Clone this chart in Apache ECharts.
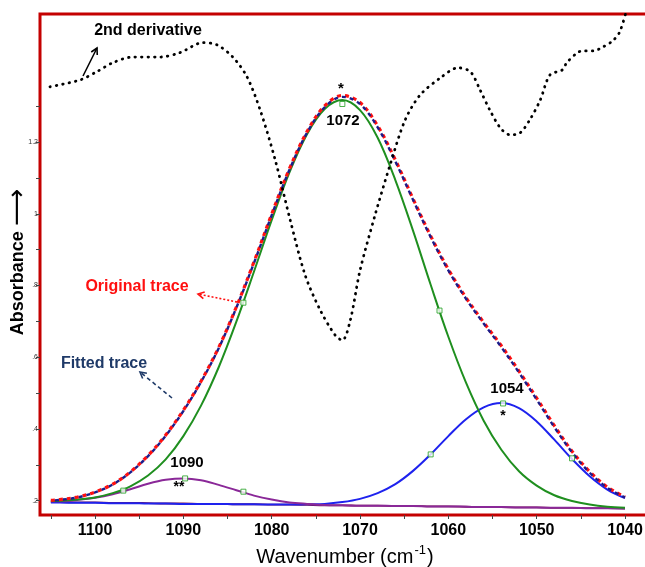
<!DOCTYPE html>
<html>
<head>
<meta charset="utf-8">
<script src="https://cdn.jsdelivr.net/npm/echarts@6/dist/echarts.min.js"></script>
<style>
html, body { margin: 0; padding: 0; background: #fff; }
#chart { width: 645px; height: 567px; }
</style>
</head>
<body>
<div id="chart"></div>
<script>
// wavenumber grid (cm-1)
const wavenumbers = [1105, 1104, 1102, 1100, 1098, 1096, 1094, 1092, 1090, 1088, 1086, 1084, 1082, 1080, 1078, 1076, 1074,
    1072, 1070, 1068, 1066, 1064, 1062, 1060, 1058, 1056, 1054, 1052, 1050, 1048, 1046, 1044, 1042, 1040];

const originalTrace = [0.201, 0.203, 0.210, 0.224, 0.246, 0.280, 0.326, 0.383, 0.452, 0.533, 0.627, 0.740, 0.866, 0.999, 1.125, 1.229, 1.301,
    1.330, 1.310, 1.245, 1.150, 1.042, 0.938, 0.845, 0.766, 0.697, 0.632, 0.561, 0.486, 0.409, 0.338, 0.281, 0.238, 0.210];
const fittedTrace = [0.200, 0.202, 0.209, 0.223, 0.245, 0.279, 0.324, 0.381, 0.450, 0.531, 0.625, 0.738, 0.863, 0.996, 1.122, 1.226, 1.297,
    1.326, 1.306, 1.241, 1.146, 1.039, 0.935, 0.842, 0.763, 0.694, 0.628, 0.557, 0.482, 0.405, 0.335, 0.278, 0.236, 0.209];
const band1072 = [0.199, 0.200, 0.203, 0.209, 0.221, 0.240, 0.270, 0.315, 0.380, 0.465, 0.572, 0.699, 0.839, 0.982, 1.115, 1.222, 1.292,
    1.317, 1.289, 1.212, 1.094, 0.953, 0.802, 0.657, 0.529, 0.423, 0.342, 0.282, 0.242, 0.215, 0.199, 0.189, 0.183, 0.180];
const band1090 = [0.198, 0.198, 0.202, 0.208, 0.218, 0.232, 0.247, 0.258, 0.262, 0.257, 0.244, 0.229, 0.214, 0.203, 0.195, 0.191, 0.188,
    0.187, 0.186, 0.186, 0.185, 0.185, 0.184, 0.184, 0.183, 0.182, 0.182, 0.181, 0.181, 0.180, 0.180, 0.179, 0.179, 0.178];
const band1054 = [0.195, 0.195, 0.194, 0.194, 0.193, 0.193, 0.192, 0.192, 0.191, 0.191, 0.191, 0.190, 0.190, 0.189, 0.189, 0.190, 0.191,
    0.196, 0.205, 0.221, 0.246, 0.283, 0.329, 0.380, 0.427, 0.460, 0.472, 0.458, 0.421, 0.370, 0.316, 0.268, 0.231, 0.207];
const baseline = [0.196, 0.196, 0.195, 0.195, 0.194, 0.194, 0.193, 0.192, 0.192, 0.191, 0.191, 0.190, 0.190, 0.189, 0.189, 0.188, 0.187,
    0.187, 0.186, 0.186, 0.185, 0.185, 0.184, 0.184, 0.183, 0.182, 0.182, 0.181, 0.181, 0.180, 0.180, 0.179, 0.179, 0.178];

// 2nd derivative (scaled onto the absorbance axis)
const derivWn = [1105.1, 1101.7, 1099.8, 1098.0, 1095.7, 1092.6, 1090.4, 1087.8, 1086.2, 1084.4, 1082.8, 1081.3, 1079.6, 1077.9,
    1076.2, 1074.5, 1072.8, 1072.0, 1071.1, 1070.0, 1068.3, 1066.6, 1064.9, 1063.2, 1060.9, 1058.9, 1057.5, 1056.4, 1055.3,
    1054.1, 1053.0, 1051.9, 1050.8, 1049.6, 1048.5, 1047.1, 1046.6, 1045.4, 1044.8, 1043.6, 1042.5, 1041.4, 1040.6, 1039.8];
const derivVal = [1.354, 1.373, 1.396, 1.421, 1.437, 1.437, 1.449, 1.477, 1.471, 1.437, 1.382, 1.289, 1.150, 0.982,
    0.828, 0.731, 0.661, 0.647, 0.703, 0.842, 0.996, 1.136, 1.261, 1.331, 1.379, 1.407, 1.396, 1.345, 1.289,
    1.239, 1.220, 1.225, 1.261, 1.317, 1.387, 1.401, 1.421, 1.449, 1.454, 1.454, 1.465, 1.482, 1.507, 1.570];

// fit points marked with small squares
const fitPoints = [[1096.8, 0.228], [1083.2, 0.752], [1072, 1.306], [1061, 0.73], [1089.8, 0.262],
    [1083.2, 0.225], [1062, 0.329], [1053.8, 0.471], [1046, 0.318]];

const xTicks = [1105, 1100, 1095, 1090, 1085, 1080, 1075, 1070, 1065, 1060, 1055, 1050, 1045, 1040];
const xLabels = [1100, 1090, 1080, 1070, 1060, 1050, 1040];
const yTicks = [0.2, 0.3, 0.4, 0.5, 0.6, 0.7, 0.8, 0.9, 1.0, 1.1, 1.2, 1.3];
const yLabels = [0.2, 0.4, 0.6, 0.8, 1.0, 1.2];

function pairs(xs, ys) {
    return xs.map((x, i) => [x, ys[i]]);
}

function arrow(x1, y1, x2, y2, color, dash) {
    const a = Math.atan2(y2 - y1, x2 - x1);
    const h = 7;
    const p1 = [x2 - h * Math.cos(a - 0.5), y2 - h * Math.sin(a - 0.5)];
    const p2 = [x2 - h * Math.cos(a + 0.5), y2 - h * Math.sin(a + 0.5)];
    return [
        { type: 'line', shape: { x1: x1, y1: y1, x2: x2, y2: y2 }, style: { stroke: color, lineWidth: 1.6, lineDash: dash || null }, z: 100 },
        { type: 'polyline', shape: { points: [p1, [x2, y2], p2] }, style: { stroke: color, lineWidth: 1.6, fill: null }, z: 100 }
    ];
}

function label(text, x, y, size, color) {
    return {
        type: 'text', x: x, y: y, z: 100,
        style: { text: text, fill: color || '#000', font: 'bold ' + size + 'px "Liberation Sans", Arial, sans-serif', align: 'center', verticalAlign: 'middle' }
    };
}

const chart = echarts.init(document.getElementById('chart'), null, { renderer: 'canvas' });

const lineBase = { type: 'line', symbol: 'none', smooth: 0.35, animation: false, silent: true };

const option = {
    animation: false,
    backgroundColor: '#fff',
    grid: {
        left: 40, top: 14, right: -5, bottom: 52,
        outerBoundsMode: 'none', containLabel: false,
        show: true, borderColor: '#c40000', borderWidth: 3, backgroundColor: 'transparent'
    },
    xAxis: {
        type: 'value', inverse: true, min: 1037.17, max: 1106.23,
        name: '{a|Wavenumber (cm}{s|-1}{a|)}',
        nameLocation: 'middle', nameGap: 22,
        nameTextStyle: {
            rich: {
                a: { fontSize: 20, fontFamily: '"Liberation Sans", Arial, sans-serif', color: '#000', verticalAlign: 'bottom', lineHeight: 24 },
                s: { fontSize: 13, fontFamily: '"Liberation Sans", Arial, sans-serif', color: '#000', verticalAlign: 'top', lineHeight: 24, padding: [0, 1, 0, 1] }
            }
        },
        axisLine: { show: false },
        splitLine: { show: false },
        axisTick: { show: true, length: 4, customValues: xTicks, lineStyle: { color: '#444', width: 1 } },
        axisLabel: {
            customValues: xLabels, margin: 8,
            fontSize: 16, fontWeight: 'bold', color: '#000',
            fontFamily: '"Liberation Sans", Arial, sans-serif',
            formatter: v => String(v)
        }
    },
    yAxis: {
        type: 'value', min: 0.16, max: 1.557,
        axisLine: { show: false },
        splitLine: { show: false },
        axisTick: { show: true, length: 4, customValues: yTicks, lineStyle: { color: '#444', width: 1 } },
        axisLabel: {
            customValues: yLabels, margin: 2,
            fontSize: 7, color: '#333',
            fontFamily: '"Liberation Sans", Arial, sans-serif',
            formatter: v => {
                const s = String(Math.round(v * 10) / 10);
                return s.startsWith('0') ? s.slice(1) : s;
            }
        }
    },
    series: [
        Object.assign({}, lineBase, { name: 'baseline', data: pairs(wavenumbers, baseline), lineStyle: { color: '#7a1448', width: 1.8 }, z: 2 }),
        Object.assign({}, lineBase, { name: '1054', data: pairs(wavenumbers, band1054), lineStyle: { color: '#1e22ee', width: 2 }, z: 3 }),
        Object.assign({}, lineBase, { name: '1090', data: pairs(wavenumbers, band1090), lineStyle: { color: '#8a2898', width: 2 }, z: 4 }),
        Object.assign({}, lineBase, { name: '1072', data: pairs(wavenumbers, band1072), lineStyle: { color: '#1f8f1f', width: 2 }, z: 5 }),
        Object.assign({}, lineBase, { name: 'Original trace', data: pairs(wavenumbers, originalTrace), lineStyle: { color: '#ff1010', width: 3.2, type: [4, 4] }, z: 6 }),
        Object.assign({}, lineBase, { name: 'Fitted trace', data: pairs(wavenumbers, fittedTrace), lineStyle: { color: '#1c1c8a', width: 2.4, type: [4, 4], dashOffset: 4 }, z: 7 }),
        Object.assign({}, lineBase, { name: '2nd derivative', smooth: 0.3, data: pairs(derivWn, derivVal), lineStyle: { color: '#000', width: 2.8, type: [0.5, 6], cap: 'round' }, z: 8 }),
        {
            type: 'scatter', name: 'fit points', data: fitPoints, symbol: 'rect', symbolSize: 5,
            itemStyle: { color: '#fff', borderColor: '#1f9f1f', borderWidth: 1 }, z: 9, silent: true
        }
    ],
    graphic: [
        {
            type: 'text', x: 18, y: 262, rotation: Math.PI / 2, z: 100,
            style: {
                text: '{a|Absorbance }{b|\u27F6}', align: 'center', verticalAlign: 'middle',
                rich: {
                    a: { font: 'bold 18px "Liberation Sans", Arial, sans-serif', fill: '#000' },
                    b: { font: '26px "DejaVu Sans", sans-serif', fill: '#000' }
                }
            }
        },
        label('2nd derivative', 148, 31, 16),
        ...arrow(83, 76, 97, 48, '#000'),
        label('*', 341, 89, 15),
        label('1072', 343, 121, 15),
        label('1090', 187, 463, 15),
        label('**', 179, 487, 14),
        label('1054', 507, 389, 15),
        label('*', 503, 416, 14),
        label('Original trace', 137, 287, 16, '#ff1010'),
        ...arrow(237, 302, 198, 294, '#ff1010', [2, 2]),
        label('Fitted trace', 104, 364, 16, '#1f3a68'),
        ...arrow(172, 398, 140, 372, '#1f3a68', [4, 3])
    ]
};

chart.setOption(option);
</script>
</body>
</html>
